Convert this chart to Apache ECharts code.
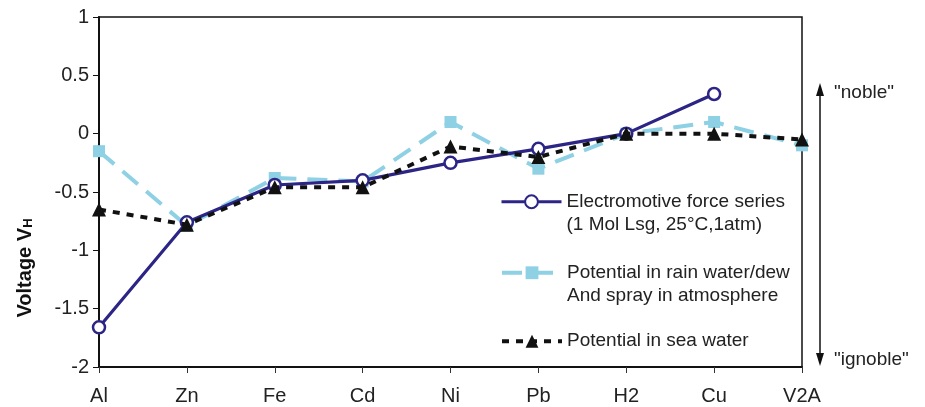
<!DOCTYPE html>
<html><head><meta charset="utf-8">
<script src="https://cdn.jsdelivr.net/npm/echarts@6/dist/echarts.min.js"></script>
<style>html,body{margin:0;padding:0;background:#fff}#c{width:925px;height:407px}</style>
</head><body><div id="c"></div>
<script>
var categories = ['Al','Zn','Fe','Cd','Ni','Pb','H2','Cu','V2A'];
var emfValues  = [-1.66,-0.76,-0.44,-0.40,-0.25,-0.13,0.0,0.34,null];
var rainValues = [-0.15,-0.79,-0.38,-0.41,0.10,-0.30,0.0,0.10,-0.10];
var seaValues  = [-0.65,-0.78,-0.46,-0.46,-0.11,-0.20,0.0,0.0,-0.05];
var yTicks = [-2,-1.5,-1,-0.5,0,0.5,1];
var seriesNames = ['Electromotive force series\n(1 Mol Lsg, 25°C,1atm)','Potential in rain water/dew\nAnd spray in atmosphere','Potential in sea water'];

var FONT = '"Liberation Sans", Arial, Helvetica, sans-serif';
var NAVY = '#2c2585', BLUE = '#8ed0e4', BLACK = '#111';
var chart = echarts.init(document.getElementById('c'));
function lg(name, top, multi, lw){
  return {data:[name], left:500, top:top, orient:'vertical', padding:0, itemWidth:60, itemHeight:16,
    selectedMode:false,
    formatter:function(n){ return multi ? ' \n' + n : n; },
    lineStyle:{width:lw},
    textStyle:{fontFamily:FONT, fontSize:19, color:'#222', lineHeight:23.5}};
}
chart.setOption({
  animation:false,
  grid:{left:99, right:123, top:17, bottom:40, show:true, borderColor:'#111', borderWidth:1.5, backgroundColor:'transparent'},
  xAxis:{type:'category', data:categories, boundaryGap:false,
    axisLine:{onZero:false, lineStyle:{color:'#111', width:2}},
    axisTick:{show:true, alignWithLabel:true, length:6, lineStyle:{color:'#333', width:1}},
    axisLabel:{fontFamily:FONT, fontSize:20, color:'#222', margin:19},
    splitLine:{show:false}},
  yAxis:{type:'value', min:yTicks[0], max:yTicks[yTicks.length-1], interval:0.5,
    axisLine:{show:true, lineStyle:{color:'#111', width:2}},
    axisTick:{show:true, length:6, lineStyle:{color:'#111', width:1}},
    axisLabel:{fontFamily:FONT, fontSize:20, color:'#222', margin:10},
    splitLine:{show:false}},
  legend:[lg(seriesNames[0],166.5,true,3), lg(seriesNames[1],237.5,true,4), lg(seriesNames[2],329.5,false,4)],
  series:[
    {name:seriesNames[0], type:'line', data:emfValues, z:3, symbol:'circle', symbolSize:12,
      lineStyle:{color:NAVY, width:3.2}, itemStyle:{color:'#fff', borderColor:NAVY, borderWidth:2.5}},
    {name:seriesNames[1], type:'line', data:rainValues, z:2, symbol:'rect', symbolSize:12,
      lineStyle:{color:BLUE, width:4, type:[20,11]}, itemStyle:{color:BLUE}},
    {name:seriesNames[2], type:'line', data:seaValues, z:4, symbol:'triangle', symbolSize:14,
      lineStyle:{color:BLACK, width:4, type:[7,7]}, itemStyle:{color:BLACK}}
  ],
  graphic:[
    {type:'text', x:25, y:268, rotation:Math.PI/2,
      style:{text:'{a|Voltage V}{b|H}', align:'center', verticalAlign:'middle',
        rich:{a:{fontFamily:FONT, fontSize:20, fontWeight:'bold', fill:'#111'},
              b:{fontFamily:FONT, fontSize:13, fontWeight:'bold', fill:'#111', verticalAlign:'bottom', padding:[6,0,0,0]}}}},
    {type:'line', shape:{x1:820, y1:90, x2:820, y2:358}, style:{stroke:'#111', lineWidth:1.5}},
    {type:'polygon', shape:{points:[[820,83],[816,96],[824,96]]}, style:{fill:'#111'}},
    {type:'polygon', shape:{points:[[820,366],[816,353],[824,353]]}, style:{fill:'#111'}},
    {type:'text', x:834, y:93, style:{text:'"noble"', fontFamily:FONT, fontSize:19, fill:'#222', verticalAlign:'middle'}},
    {type:'text', x:834, y:360, style:{text:'"ignoble"', fontFamily:FONT, fontSize:19, fill:'#222', verticalAlign:'middle'}}
  ]
});
</script></body></html>
